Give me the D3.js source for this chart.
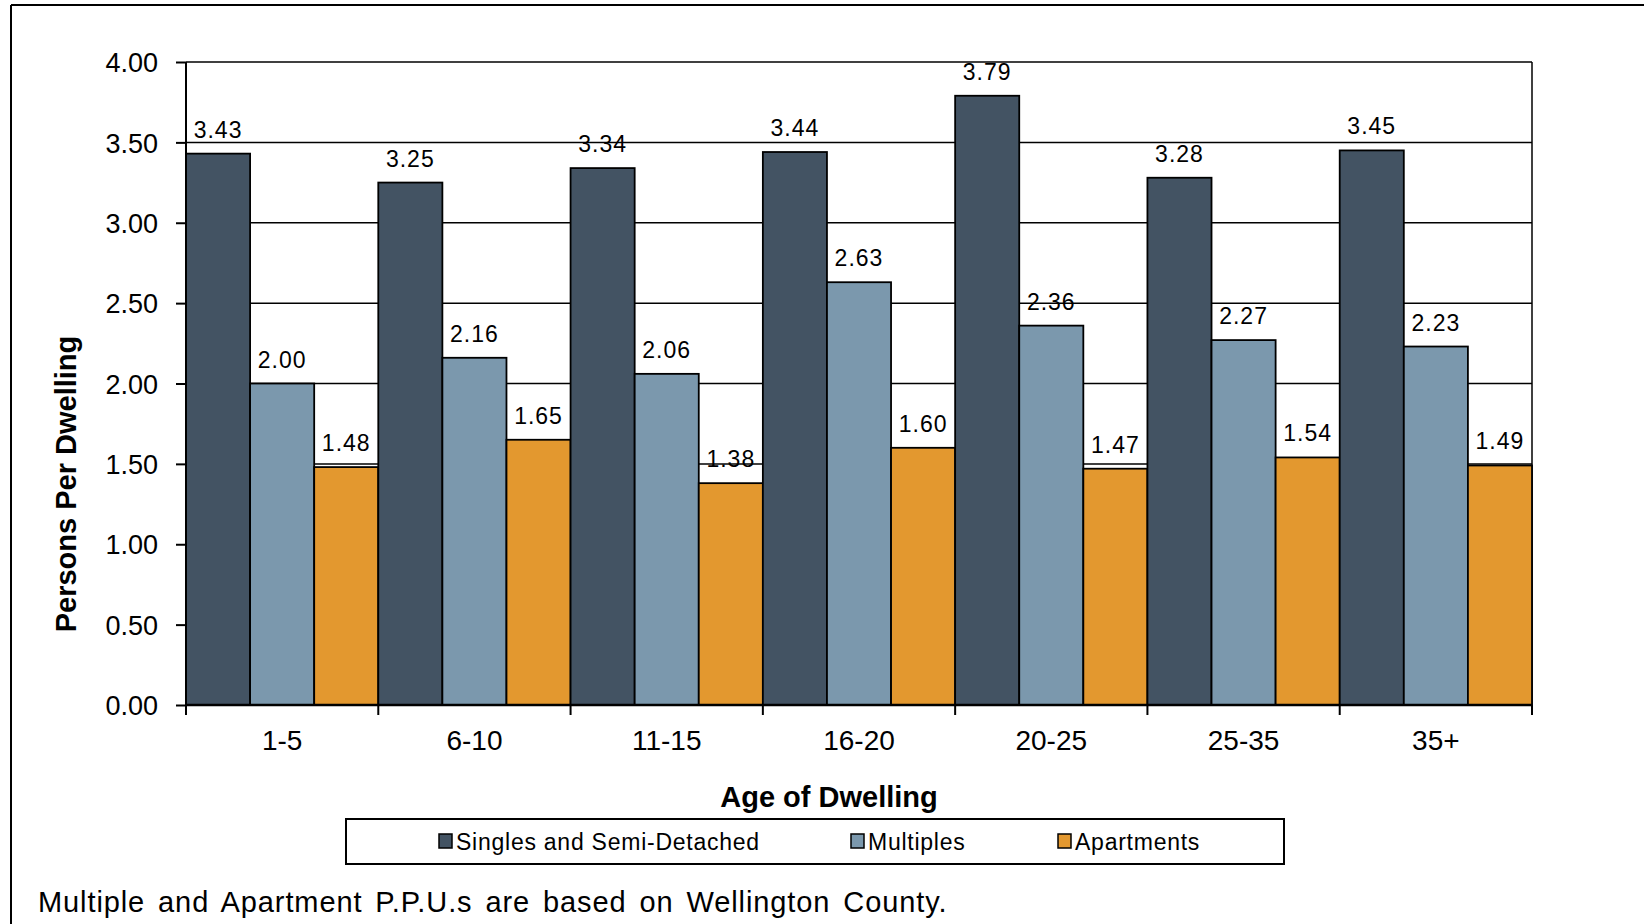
<!DOCTYPE html>
<html>
<head>
<meta charset="utf-8">
<script src="https://cdn.jsdelivr.net/npm/d3@7"></script>
<style>
  html, body { margin: 0; padding: 0; background: #fff; }
  svg { display: block; font-family: "Liberation Sans", Arial, sans-serif; }
</style>
</head>
<body>
<svg id="chart" width="1644" height="924"></svg>
<script>
const categories = ["1-5", "6-10", "11-15", "16-20", "20-25", "25-35", "35+"];
const seriesNames = ["Singles and Semi-Detached", "Multiples", "Apartments"];
const singles = [3.43, 3.25, 3.34, 3.44, 3.79, 3.28, 3.45];
const multiples = [2.00, 2.16, 2.06, 2.63, 2.36, 2.27, 2.23];
const apartments = [1.48, 1.65, 1.38, 1.60, 1.47, 1.54, 1.49];
const yTicks = [0, 0.5, 1, 1.5, 2, 2.5, 3, 3.5, 4];
const colors = ["#435363", "#7b98ad", "#e3982f"];
const yTitle = "Persons Per Dwelling";
const xTitle = "Age of Dwelling";
const footnote = "Multiple and Apartment P.P.U.s are based on Wellington County.";

const seriesValues = [singles, multiples, apartments];
const svg = d3.select("#chart");

// outer frame (top and left edges visible)
svg.append("line").attr("x1", 11).attr("y1", 5).attr("x2", 1644).attr("y2", 5)
  .attr("stroke", "#000").attr("stroke-width", 2);
svg.append("line").attr("x1", 11).attr("y1", 5).attr("x2", 11).attr("y2", 924)
  .attr("stroke", "#000").attr("stroke-width", 2);

const plot = { left: 186, right: 1532, top: 62, bottom: 705 };

const x = d3.scaleBand().domain(categories).range([plot.left, plot.right]).padding(0);
const xs = d3.scaleBand().domain(seriesNames).range([0, x.bandwidth()]).padding(0);
const y = d3.scaleLinear().domain([0, 4]).range([plot.bottom, plot.top]);

// gridlines
svg.append("g").selectAll("line").data(yTicks.filter(d => d > 0)).join("line")
  .attr("x1", plot.left).attr("x2", plot.right)
  .attr("y1", d => y(d)).attr("y2", d => y(d))
  .attr("stroke", "#000").attr("stroke-width", 1.5);

// right border
svg.append("line").attr("x1", plot.right).attr("x2", plot.right)
  .attr("y1", plot.top).attr("y2", plot.bottom + 9)
  .attr("stroke", "#000").attr("stroke-width", 1.5);

// bars
const groups = svg.append("g").selectAll("g").data(categories).join("g")
  .attr("transform", d => `translate(${x(d)},0)`);

groups.each(function(cat, ci) {
  const g = d3.select(this);
  seriesNames.forEach((s, si) => {
    const v = seriesValues[si][ci];
    g.append("rect")
      .attr("x", xs(s)).attr("width", xs.bandwidth())
      .attr("y", y(v)).attr("height", y(0) - y(v))
      .attr("fill", colors[si]).attr("stroke", "#000").attr("stroke-width", 1.8);
  });
});

// data labels
groups.each(function(cat, ci) {
  const g = d3.select(this);
  seriesNames.forEach((s, si) => {
    const v = seriesValues[si][ci];
    g.append("text")
      .attr("x", xs(s) + xs.bandwidth() / 2)
      .attr("y", y(v) - 16)
      .attr("text-anchor", "middle")
      .attr("font-size", 23)
      .attr("letter-spacing", 1)
      .attr("fill", "#000")
      .text(v.toFixed(2));
  });
});

// y axis
const yAxis = d3.axisLeft(y).tickValues(yTicks).tickFormat(d3.format(".2f"))
  .tickSize(10).tickPadding(18);
const yg = svg.append("g").attr("transform", `translate(${plot.left},0)`).call(yAxis);
yg.select(".domain").attr("stroke", "#000").attr("stroke-width", 2)
  .attr("d", `M0,${plot.top}V${plot.bottom}`);
yg.selectAll(".tick line").attr("stroke", "#000").attr("stroke-width", 2);
yg.selectAll(".tick text").attr("font-size", 27).attr("fill", "#000")
  .attr("font-family", "Liberation Sans, Arial, sans-serif").attr("dy", "0.36em");

// x axis
const xAxis = d3.axisBottom(x).tickSize(0).tickPadding(0).tickFormat(d => d);
const xg = svg.append("g").attr("transform", `translate(0,${plot.bottom})`).call(xAxis);
xg.select(".domain").attr("stroke", "#000").attr("stroke-width", 2.5)
  .attr("d", `M${plot.left},0H${plot.right}`);
xg.selectAll(".tick text").attr("font-size", 28).attr("fill", "#000")
  .attr("font-family", "Liberation Sans, Arial, sans-serif")
  .attr("dy", 0).attr("y", 45);
// category boundary ticks
const bounds = categories.map(c => x(c)).concat([plot.right]);
svg.append("g").selectAll("line").data(bounds).join("line")
  .attr("x1", d => d).attr("x2", d => d)
  .attr("y1", plot.bottom).attr("y2", plot.bottom + 10)
  .attr("stroke", "#000").attr("stroke-width", 2);

// axis titles
svg.append("text")
  .attr("transform", `translate(76,484) rotate(-90)`)
  .attr("text-anchor", "middle")
  .attr("font-size", 29).attr("font-weight", "bold").attr("fill", "#000")
  .text(yTitle);

svg.append("text")
  .attr("x", 829).attr("y", 807)
  .attr("text-anchor", "middle")
  .attr("font-size", 29).attr("font-weight", "bold").attr("fill", "#000")
  .text(xTitle);

// legend
svg.append("rect").attr("x", 346).attr("y", 819).attr("width", 938).attr("height", 45)
  .attr("fill", "#fff").attr("stroke", "#000").attr("stroke-width", 2);
const legendX = [439, 851, 1058];
const leg = svg.append("g").selectAll("g").data(seriesNames).join("g")
  .attr("transform", (d, i) => `translate(${legendX[i]},834)`);
leg.append("rect").attr("width", 13).attr("height", 14)
  .attr("fill", (d, i) => colors[i]).attr("stroke", "#000").attr("stroke-width", 1.5);
leg.append("text").attr("x", 17).attr("y", 16)
  .attr("font-size", 23).attr("letter-spacing", 0.75).attr("fill", "#000")
  .text(d => d);

// footnote
svg.append("text").attr("x", 38).attr("y", 912)
  .attr("font-size", 29).attr("letter-spacing", 0.9).attr("word-spacing", 4).attr("fill", "#000")
  .text(footnote);
</script>
</body>
</html>
